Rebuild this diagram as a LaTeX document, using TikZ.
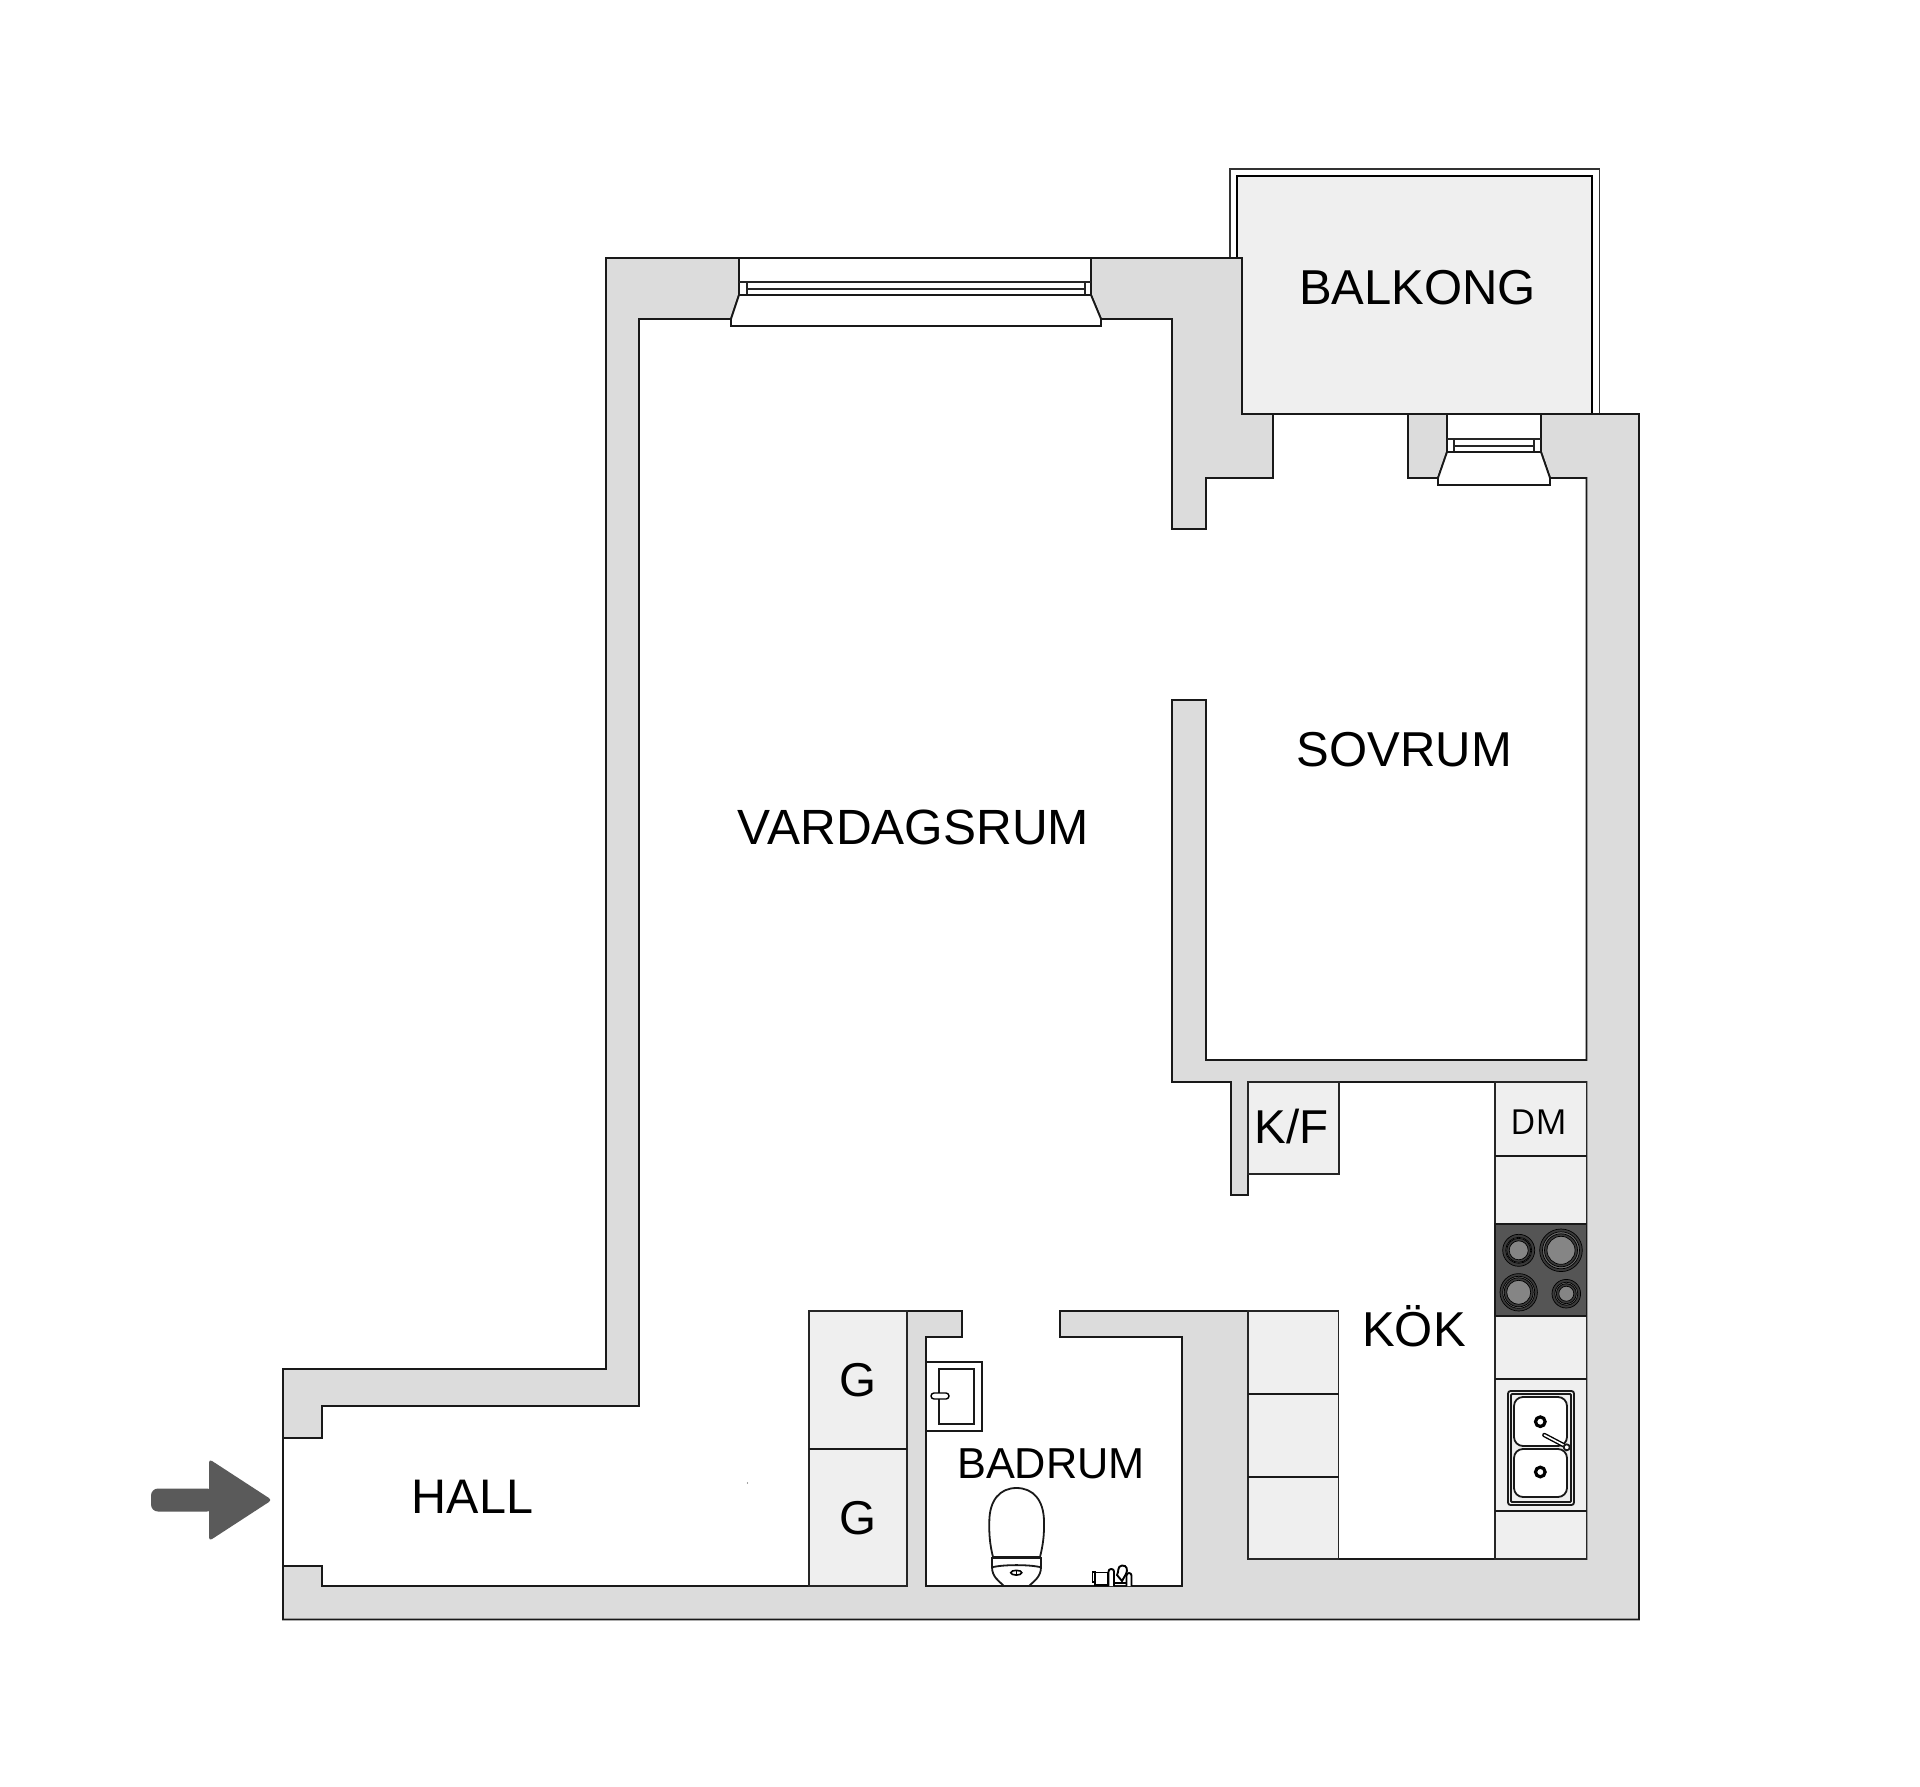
\documentclass[tikz,border=0pt]{standalone}
\usepackage{fontspec}
\setmainfont{Liberation Sans}
\newfontfamily\dmfont{Open Sans}
\definecolor{wallc}{HTML}{DCDCDC}
\definecolor{unitc}{HTML}{EFEFEF}
\definecolor{stovec}{HTML}{555555}
\definecolor{ringc}{HTML}{3A3A3A}
\definecolor{platec}{HTML}{858585}
\definecolor{arrowc}{HTML}{5A5A5A}
\tikzset{
  wall/.style={fill=wallc,draw=black!90,line width=1.8pt,line join=miter},
  unit/.style={fill=unitc,draw=black!85,line width=1.8pt},
  ln/.style={draw=black!90,line width=1.8pt},
  thin ln/.style={draw=black!85,line width=1.4pt},
  roomlabel/.style={anchor=base,inner sep=0pt,font=\fontsize{49}{49}\selectfont,text=black},
  burner/.style={fill=ringc,draw=black,line width=0.7pt},
  ring/.style={fill=platec!80!black,draw=black,line width=0.7pt},
  plate/.style={fill=platec,draw=black,line width=0.7pt},
  acc/.style={draw=black,line width=1.9pt,fill=white},
}
\begin{document}
\begin{tikzpicture}[x=1pt,y=-1pt]
\useasboundingbox (0,0) rectangle (1920,1787);
\fill[white] (0,0) rectangle (1920,1787);
% balcony
\draw[line width=1.9pt,draw=black!80] (1230,258) -- (1230,169) -- (1599.5,169) -- (1599.5,414);
\fill[unitc] (1237,176) -- (1592,176) -- (1592,414) -- (1242,414) -- (1242,258) -- (1237,258) -- cycle;
\draw[line width=2.1pt] (1237,258) -- (1237,176) -- (1592,176) -- (1592,414);
% walls
\path[wall] (283,1438) -- (283,1369) -- (606,1369) -- (606,258) -- (739,258) -- (739,295) -- (731,319) -- (639,319) -- (639,1406) -- (322,1406) -- (322,1438) -- cycle;
\path[wall] (1091,258) -- (1242,258) -- (1242,414) -- (1273,414) -- (1273,478) -- (1206,478) -- (1206,529) -- (1172,529) -- (1172,319) -- (1101,319) -- (1091,295) -- cycle;
\path[wall] (1408,414) -- (1447,414) -- (1447,452) -- (1438,478) -- (1408,478) -- cycle;
\path[wall] (1541,414) -- (1639,414) -- (1639,1619.5) -- (283,1619.5) -- (283,1566) -- (322,1566) -- (322,1586) -- (907,1586) -- (907,1311) -- (962,1311) -- (962,1337) -- (926,1337) -- (926,1586) -- (1182,1586) -- (1182,1337) -- (1060,1337) -- (1060,1311) -- (1248,1311) -- (1248,1559) -- (1586.5,1559) -- (1586.5,1082) -- (1248,1082) -- (1248,1195) -- (1231,1195) -- (1231,1082) -- (1172,1082) -- (1172,700) -- (1206,700) -- (1206,1060) -- (1586.5,1060) -- (1586.5,478) -- (1550,478) -- (1541,452) -- cycle;
\draw[ln] (1242,414) -- (1592,414);
\draw[ln] (283,1438) -- (283,1566);
% top window
\draw[ln] (739,258) -- (1091,258) (739,258) -- (739,295) (1091,258) -- (1091,295);
\draw[thin ln] (739,282) -- (1091,282) (747,289) -- (1085,289) (747,282) -- (747,295) (1085,282) -- (1085,295);
\draw[ln,fill=white] (739,295) -- (1091,295) -- (1101,319) -- (1101,326) -- (731,326) -- (731,319) -- cycle;
% balcony door
\draw[ln] (1447,414) -- (1447,452) (1541,414) -- (1541,452);
\draw[thin ln] (1447,439) -- (1541,439) (1454,446) -- (1534,446) (1454,439) -- (1454,452) (1534,439) -- (1534,452);
\draw[ln,fill=white] (1447,452) -- (1541,452) -- (1550,478) -- (1550,485) -- (1438,485) -- (1438,478) -- cycle;
% hall closets
\path[unit] (809,1311) rectangle (907,1586);
\draw[ln] (809,1449) -- (907,1449);
\fill[black!70] (747.5,1483) circle (0.7);
% kitchen counter
\path[unit] (1495,1082) rectangle (1586.5,1559);
\draw[ln] (1495,1156) -- (1586.5,1156) (1495,1379) -- (1586.5,1379) (1495,1511) -- (1586.5,1511);
\path[unit] (1248,1311) rectangle (1338.5,1559);
\draw[ln] (1248,1394) -- (1338.5,1394) (1248,1477) -- (1338.5,1477);
\path[unit] (1248,1082) rectangle (1339,1174);
% stove
\draw[ln,fill=stovec] (1495,1224) rectangle (1586.5,1316);
\path[burner] (1518.7,1250.3) circle (16);
\path[ring] (1518.7,1250.3) circle (13);
\path[burner] (1518.7,1250.3) circle (12);
\path[plate] (1518.7,1250.3) circle (9.5);
\path[burner] (1561,1250.3) circle (21.3);
\path[ring] (1561,1250.3) circle (18.5);
\path[burner] (1561,1250.3) circle (16.5);
\path[plate] (1561,1250.3) circle (14);
\path[burner] (1518.7,1292.3) circle (18.7);
\path[ring] (1518.7,1292.3) circle (16);
\path[burner] (1518.7,1292.3) circle (14.5);
\path[plate] (1518.7,1292.3) circle (12);
\path[burner] (1566.3,1293.7) circle (14.3);
\path[ring] (1566.3,1293.7) circle (11.5);
\path[burner] (1566.3,1293.7) circle (10);
\path[plate] (1566.3,1293.7) circle (7.5);
% sink
\draw[ln,rounded corners=2.5pt] (1508,1391) rectangle (1574,1505);
\draw[ln,rounded corners=1pt] (1511,1394) rectangle (1571,1502);
\draw[ln,fill=white,rounded corners=9pt] (1514,1397) rectangle (1567,1446);
\draw[ln,fill=white,rounded corners=9pt] (1514,1449) rectangle (1567,1497);
\draw[line width=3.2pt] (1540.3,1421.7) circle (4.8);
\draw[line width=3.2pt] (1540.3,1472) circle (4.8);
\draw[line width=4.4pt,line cap=round] (1544.3,1435) -- (1563.3,1445);
\draw[line width=1.6pt,white,line cap=round] (1544.3,1435) -- (1563.3,1445);
\draw[ln,fill=white] (1566.7,1447.3) circle (3);
% bathroom
\draw[ln] (926,1362) -- (982,1362) -- (982,1431) -- (926,1431);
\draw[ln] (939,1369) rectangle (974,1424);
\draw[line width=1.4pt,fill=white,rounded corners=3pt] (931,1393) rectangle (949,1399);
% toilet
\draw[ln,fill=white] (993,1557) .. controls (990,1545) and (989,1535) .. (989.3,1522) .. controls (989.3,1500) and (1000,1488) .. (1016.5,1488) .. controls (1033,1488) and (1044,1500) .. (1044,1522) .. controls (1044.3,1535) and (1043,1545) .. (1040,1557) -- cycle;
\draw[ln,fill=white] (992,1558) -- (1041,1558) -- (1041,1567) .. controls (1041,1577) and (1034,1581) .. (1029,1586) -- (1004,1586) .. controls (999,1581) and (992,1577) .. (992,1567) -- cycle;
\draw[ln] (993,1567) .. controls (1005,1564.5) and (1028,1564.5) .. (1040,1567);
\draw[line width=1.6pt,fill=white] (1016.3,1572.7) ellipse (5.5 and 2.4);
\draw[line width=1.6pt] (1016.3,1570.5) -- (1016.3,1575);
% accessories
\draw[acc] (1092.5,1572) rectangle (1095,1582);
\draw[acc] (1095,1572.5) rectangle (1108,1585);
\draw[acc,rounded corners=2.5pt] (1108.5,1586) -- (1108.5,1569) -- (1114,1569) -- (1114,1586);
\draw[acc] (1117,1575) .. controls (1119,1572) and (1117,1566) .. (1122,1565.5) .. controls (1127,1565) and (1128,1570) .. (1126,1574) -- (1122,1581) -- cycle;
\draw[acc,rounded corners=2.5pt] (1126.5,1586) -- (1126.5,1573) -- (1131.5,1573) -- (1131.5,1586);
\draw[line width=2pt] (1114,1583) -- (1126.5,1583);
% arrow
\fill[arrowc,rounded corners=7pt] (151,1488.5) -- (214,1488.5) -- (214,1511.5) -- (151,1511.5) -- cycle;
\fill[arrowc,rounded corners=3.5pt] (209,1459) -- (272,1500) -- (209,1541) -- cycle;
% labels
\node[roomlabel] (balkong) at (1417.5,304.5) {BALKONG};
\node[roomlabel] (sovrum) at (1404.5,766) {SOVRUM};
\node[roomlabel,font=\fontsize{49.5}{49}\selectfont] (vardagsrum) at (913.5,844) {VARDAGSRUM};
\node[roomlabel,font=\fontsize{48.5}{49}\selectfont] (hall) at (472.5,1513) {HALL};
\node[roomlabel] (kok) at (1414,1346.5) {KÖK};
\node[roomlabel,font=\fontsize{43.3}{43}\selectfont] (badrum) at (1051,1478.5) {BADRUM};
\node[roomlabel,font=\fontsize{47.5}{47}\selectfont] (g1) at (858,1396) {G};
\node[roomlabel,font=\fontsize{47.5}{47}\selectfont] (g2) at (858,1534) {G};
\node[roomlabel,font=\fontsize{47.5}{47}\selectfont] (kf) at (1291.5,1143) {K/F};
\node[roomlabel,font=\fontsize{34.5}{34}\selectfont\dmfont] (dm) at (1538.5,1134) {DM};
\end{tikzpicture}
\end{document}
